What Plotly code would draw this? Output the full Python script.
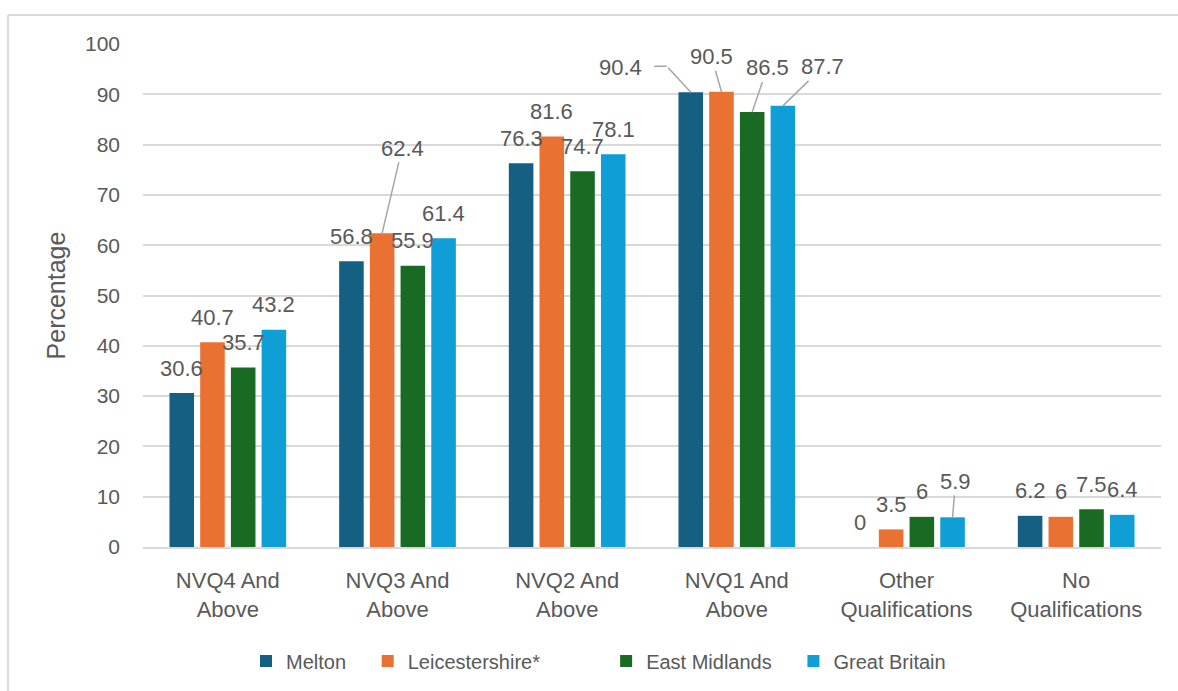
import plotly.graph_objects as go

categories = ["NVQ4 And<br>Above", "NVQ3 And<br>Above", "NVQ2 And<br>Above",
              "NVQ1 And<br>Above", "Other<br>Qualifications", "No<br>Qualifications"]
series_names = ["Melton", "Leicestershire*", "East Midlands", "Great Britain"]
melton = [30.6, 56.8, 76.3, 90.4, 0, 6.2]
leicestershire = [40.7, 62.4, 81.6, 90.5, 3.5, 6]
east_midlands = [35.7, 55.9, 74.7, 86.5, 6, 7.5]
great_britain = [43.2, 61.4, 78.1, 87.7, 5.9, 6.4]
y_ticks = [0, 10, 20, 30, 40, 50, 60, 70, 80, 90, 100]

series_values = [melton, leicestershire, east_midlands, great_britain]
colors = ["#156082", "#E97132", "#196B24", "#0F9ED5"]
legend_pad = ["\u00a0" * 3, "\u00a0" * 11, "\u00a0" * 3, ""]

W, H = 1178, 691
ML, MR, MT, MB = 143, 17, 44, 143
PW, PH = W - ML - MR, H - MT - MB

BARGAP, GROUPGAP = 0.276, 0.2
slot = (1 - BARGAP) / len(series_names)

TXT = "#595959"
GRID = "#d9d9d9"
FONT = "Liberation Sans"

fig = go.Figure()
for name, vals, col, pad in zip(series_names, series_values, colors, legend_pad):
    fig.add_trace(go.Bar(x=categories, y=vals, name=name + pad, marker_color=col,
                         marker_line_width=0))

# label offsets (dx px, dy px upward from bar top); default sits just above bar
leader = {
    (1, 1): (20, 85),
    (1, 3): (-10, 35),
    (2, 3): (15, 44),
    (3, 3): (40, 39),
    (3, 4): (3, 36),
}
annotations = []
for j, vals in enumerate(series_values):
    for i, v in enumerate(vals):
        xpos = i + (j - 1.5) * slot
        base = dict(x=xpos, y=v, xref="x", yref="y", text=f"{v:g}",
                    font=dict(family=FONT, size=22, color=TXT))
        if (j, i) in leader:
            dx, up = leader[(j, i)]
            annotations.append(dict(base, showarrow=True, arrowhead=0, arrowwidth=1.5,
                                    arrowcolor="#a6a6a6", ax=dx, ay=-up, standoff=0))
        elif (j, i) == (0, 3):
            # label to the left with elbow leader
            annotations.append(dict(base, showarrow=False, xanchor="center", yanchor="middle",
                                    xshift=-70, yshift=25))
            annotations.append(dict(x=xpos, y=v, xref="x", yref="y", text="", showarrow=True,
                                    arrowhead=0, arrowwidth=1.5, arrowcolor="#a6a6a6",
                                    ax=-24, ay=-26, standoff=0))
            annotations.append(dict(x=xpos, y=v, xref="x", yref="y", text="", showarrow=True,
                                    arrowhead=0, arrowwidth=1.5, arrowcolor="#a6a6a6",
                                    xshift=-24, yshift=26, ax=-14, ay=0, standoff=0))
        else:
            annotations.append(dict(base, showarrow=False, xanchor="center", yanchor="middle",
                                    yshift=25))

# outer chart border (left and top), in paper coordinates
bx = (8 - ML) / PW
by = (H - MB - 15) / PH
shapes = [
    dict(type="line", xref="paper", yref="paper", x0=bx, x1=(W - ML) / PW + 0.01, y0=by, y1=by,
         line=dict(color=GRID, width=2)),
    dict(type="line", xref="paper", yref="paper", x0=bx, x1=bx, y0=by, y1=-(MB + 5) / PH,
         line=dict(color=GRID, width=2)),
]

fig.update_layout(
    width=W, height=H, autosize=False,
    margin=dict(l=ML, r=MR, t=MT, b=MB),
    paper_bgcolor="white", plot_bgcolor="white",
    barmode="group", bargap=BARGAP, bargroupgap=GROUPGAP,
    font=dict(family=FONT, size=21, color=TXT),
    showlegend=True,
    legend=dict(orientation="h", x=(246 - ML) / PW, xanchor="left",
                y=(H - MB - 661) / PH, yanchor="middle",
                font=dict(family=FONT, size=20, color=TXT),
                itemwidth=30, traceorder="normal"),
    annotations=annotations,
    shapes=shapes,
)
fig.update_xaxes(type="category", showgrid=False, showline=True, linecolor=GRID, linewidth=1.5,
                 ticks="", tickfont=dict(family=FONT, size=22, color=TXT),
                 ticklabelstandoff=13, automargin=False)
fig.update_yaxes(range=[0, 100], tickvals=y_ticks, showgrid=True, gridcolor=GRID, gridwidth=1.5,
                 zeroline=False, showline=False, ticks="",
                 tickfont=dict(family=FONT, size=21, color=TXT), ticklabelstandoff=22,
                 title=dict(text="Percentage", font=dict(family=FONT, size=25, color=TXT),
                            standoff=12),
                 automargin=False)

fig.write_html("out.html")
